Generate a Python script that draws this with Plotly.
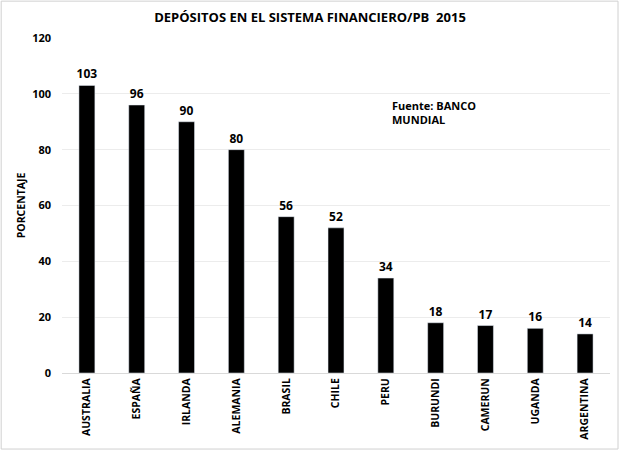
import plotly.graph_objects as go

countries = ["AUSTRALIA", "ESPAÑA", "IRLANDA", "ALEMANIA", "BRASIL", "CHILE",
             "PERU", "BURUNDI", "CAMERUN", "UGANDA", "ARGENTINA"]
values = [103, 96, 90, 80, 56, 52, 34, 18, 17, 16, 14]
y_ticks = [0, 20, 40, 60, 80, 100, 120]

FONT = "Open Sans"

fig = go.Figure(go.Bar(
    x=countries, y=values, marker_color="black",
    text=[str(v) for v in values], textposition="outside",
    textfont=dict(family=FONT, size=12, color="black", weight="bold"),
    cliponaxis=False, constraintext="none",
))

fig.update_layout(
    width=620, height=451,
    margin=dict(l=62, r=10, t=38, b=78),
    plot_bgcolor="white", paper_bgcolor="white",
    bargap=0.68,
    showlegend=False,
    title=dict(text="<b>DEPÓSITOS EN EL SISTEMA FINANCIERO/PB  2015</b>",
               x=0.5, xanchor="center", y=0.962, yanchor="middle",
               font=dict(family=FONT, size=13, color="black")),
    xaxis=dict(tickangle=-90, automargin=False,
               tickfont=dict(family=FONT, size=10.5, color="black", weight="bold"),
               showline=True, linecolor="#d9d9d9", linewidth=1, ticks="", showgrid=False),
    yaxis=dict(range=[0, 120], tickvals=y_ticks, showgrid=True, gridcolor="#ececec",
               zeroline=False, showline=False, ticks="", automargin=False,
               ticklabelstandoff=10,
               tickfont=dict(family=FONT, size=11, color="black", weight="bold"),
               title=dict(text="<b>PORCENTAJE</b>", standoff=4,
                          font=dict(family=FONT, size=10.5, color="black"))),
    annotations=[dict(text="<b>Fuente: BANCO<br>MUNDIAL</b>", xref="paper", yref="paper",
                      x=0.598, y=0.826, xanchor="left", yanchor="top", align="left",
                      showarrow=False, font=dict(family=FONT, size=11, color="black"))],
    shapes=[dict(type="rect", xref="paper", yref="paper", x0=-0.111, x1=1.0146,
                 y0=-0.227, y1=1.110, line=dict(color="#d0d0d0", width=1))],
)

fig.write_html("out.html", config={"displayModeBar": False},
               post_script="document.body.style.margin='0';document.body.style.overflow='hidden';")
